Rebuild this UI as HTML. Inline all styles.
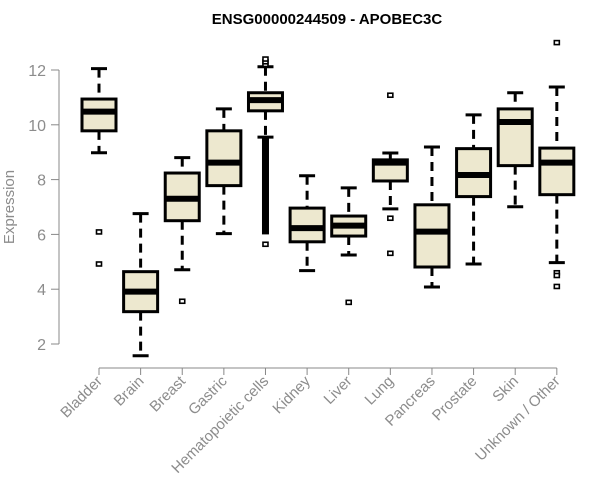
<!DOCTYPE html>
<html><head><meta charset="utf-8"><style>
body{margin:0;background:#fff}
svg{display:block;font-family:"Liberation Sans",Arial,sans-serif}
</style></head><body>
<svg id="chart" width="600" height="500">
<text x="327" y="24" text-anchor="middle" font-weight="bold" font-size="15">ENSG00000244509 - APOBEC3C</text>
<text transform="translate(14,207) rotate(-90)" text-anchor="middle" font-size="15" fill="#8c8c8c">Expression</text>
<g id="axes"></g><g id="boxes"></g>
</svg>
<script>
const categories=["Bladder","Brain","Breast","Gastric","Hematopoietic cells","Kidney","Liver","Lung","Pancreas","Prostate","Skin","Unknown / Other"];
const lowWhisker=[8.98,1.57,4.71,6.03,9.55,4.68,5.25,6.93,4.08,4.92,7.01,4.97];
const q1=[9.78,3.18,6.50,7.78,10.51,5.73,5.94,7.95,4.81,7.38,8.51,7.45];
const medians=[10.48,3.91,7.30,8.62,10.9,6.23,6.32,8.62,6.10,8.17,10.10,8.62];
const q3=[10.94,4.64,8.24,9.78,11.17,6.96,6.67,8.72,7.08,9.13,10.58,9.15];
const highWhisker=[12.05,6.76,8.80,10.58,12.12,8.14,7.70,8.97,9.19,10.36,11.17,11.38];
const outliers=[[6.09,4.92],[],[3.56],[],[12.2,12.3,12.4,5.64],[],[3.52],[11.08,6.59,5.31],[],[],[],[13.0,4.6,4.5,4.1]];
const denseOutlierRange=[[],[],[],[],[6.0,9.55],[],[],[],[],[],[],[]];
const yTicks=[2,4,6,8,10,12];
const NS="http://www.w3.org/2000/svg";
const y=v=>344-(v-2)*27.4;
const x=i=>99+i*41.62;
function mk(p,t,a){const e=document.createElementNS(NS,t);for(const k in a)e.setAttribute(k,a[k]);p.appendChild(e);return e;}
const ax=document.getElementById('axes'),bx=document.getElementById('boxes');
let l=mk(ax,'line',{x1:59,x2:59,y1:y(12),y2:y(2),stroke:'#888'});


yTicks.forEach(t=>{
 let tk=mk(ax,'line',{x1:51,x2:59,y1:y(t),y2:y(t),stroke:'#888'});
 
 
 let tx=mk(ax,'text',{x:46,y:y(t)+6,'text-anchor':'end','font-size':16,fill:'#8c8c8c'});
 tx.textContent=t;
 
 
});
l=mk(ax,'line',{x1:x(0),x2:x(11),y1:368,y2:368,stroke:'#888'});


categories.forEach((c,i)=>{
 const cx=x(i);
 let tk=mk(ax,'line',{x1:cx,x2:cx,y1:368,y2:375,stroke:'#888'});
 
 
 let tx=mk(ax,'text',{transform:`translate(${cx+4},${382}) rotate(-45)`,'text-anchor':'end','font-size':15,fill:'#8c8c8c'});
 tx.textContent=c;
 
 
 const g=mk(bx,'g',{});
 
 
 mk(g,'line',{x1:cx,x2:cx,y1:y(highWhisker[i]),y2:y(q3[i]),stroke:'#000','stroke-width':3,'stroke-dasharray':'9,6'});
 mk(g,'line',{x1:cx,x2:cx,y1:y(q1[i]),y2:y(lowWhisker[i]),stroke:'#000','stroke-width':3,'stroke-dasharray':'9,6'});
 mk(g,'line',{x1:cx-8,x2:cx+8,y1:y(highWhisker[i]),y2:y(highWhisker[i]),stroke:'#000','stroke-width':3});
 mk(g,'line',{x1:cx-8,x2:cx+8,y1:y(lowWhisker[i]),y2:y(lowWhisker[i]),stroke:'#000','stroke-width':3});
 mk(g,'rect',{x:cx-17,y:y(q3[i]),width:34,height:y(q1[i])-y(q3[i]),fill:'#ede8cf',stroke:'#000','stroke-width':3});
 mk(g,'line',{x1:cx-17,x2:cx+17,y1:y(medians[i]),y2:y(medians[i]),stroke:'#000','stroke-width':6});
 const d=denseOutlierRange[i];
 if(d.length){
  let r=mk(g,'rect',{x:cx-3.5,y:y(d[1]),width:7,height:y(d[0])-y(d[1]),fill:'#000'});
  
  
 }
 outliers[i].forEach(o=>{
  let r=mk(g,'rect',{x:cx-2.5,y:y(o)-2,width:5,height:4,fill:'#fff',stroke:'#000','stroke-width':1.6});
  
  
 });
});
</script>
</body></html>
